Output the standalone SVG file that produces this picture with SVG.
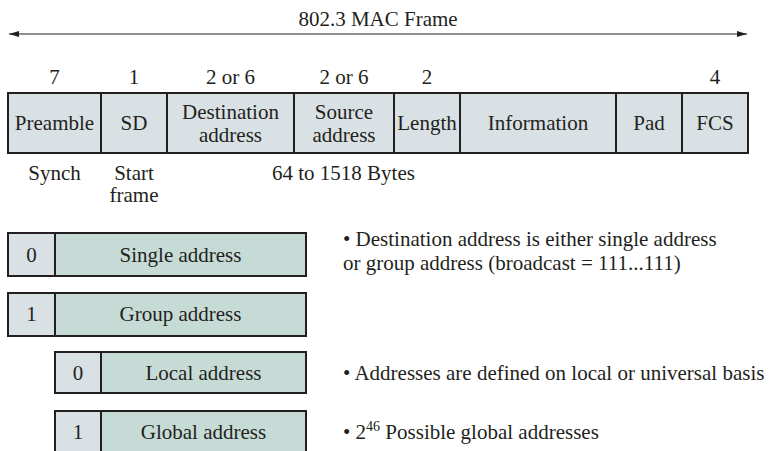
<svg xmlns="http://www.w3.org/2000/svg" width="771" height="451" viewBox="0 0 771 451" font-family="Liberation Serif, Times New Roman, serif">
<defs>
<style>
text{font-family:"Liberation Serif","Times New Roman",Times,serif;font-size:21px;fill:#231f20}
.c{text-anchor:middle}
.cell{fill:#d9e1e4;stroke:#231f20;stroke-width:2}
.addr{fill:#c7dbd6;stroke:#231f20;stroke-width:2}
.conn{stroke:#231f20;stroke-width:1.2;fill:none}
</style>
<marker id="ah" viewBox="0 0 10 6" refX="10" refY="3" markerWidth="10" markerHeight="6" markerUnits="userSpaceOnUse" orient="auto-start-reverse">
<path d="M0,0 L10,3 L0,6 Z" fill="#231f20"/>
</marker>
</defs>
<rect width="771" height="451" fill="#fff"/>

<g id="connectors">
<line class="conn" x1="9" y1="34" x2="747" y2="34" marker-start="url(#ah)" marker-end="url(#ah)"/>
</g>
<g id="title"><text class="c" x="378" y="26">802.3 MAC Frame</text></g>

<g id="sizes">
<text class="c" x="54.5" y="84">7</text>
<text class="c" x="134" y="84">1</text>
<text class="c" x="230.5" y="84">2 or 6</text>
<text class="c" x="344" y="84">2 or 6</text>
<text class="c" x="427" y="84">2</text>
<text class="c" x="715" y="84">4</text>
</g>

<g id="preamble"><rect class="cell" x="8" y="93" width="93" height="60"/><text class="c" x="54.5" y="130">Preamble</text></g>
<g id="sd"><rect class="cell" x="101" y="93" width="66" height="60"/><text class="c" x="134" y="130">SD</text></g>
<g id="dest"><rect class="cell" x="167" y="93" width="127" height="60"/><text class="c" x="230.5" y="119">Destination</text><text class="c" x="230.5" y="142">address</text></g>
<g id="source"><rect class="cell" x="294" y="93" width="100" height="60"/><text class="c" x="344" y="119">Source</text><text class="c" x="344" y="142">address</text></g>
<g id="length"><rect class="cell" x="394" y="93" width="66" height="60"/><text class="c" x="427" y="130">Length</text></g>
<g id="info"><rect class="cell" x="460" y="93" width="156" height="60"/><text class="c" x="538" y="130">Information</text></g>
<g id="pad"><rect class="cell" x="616" y="93" width="66" height="60"/><text class="c" x="649" y="130">Pad</text></g>
<g id="fcs"><rect class="cell" x="682" y="93" width="66" height="60"/><text class="c" x="715" y="130">FCS</text></g>

<g id="below">
<text class="c" x="54.5" y="180">Synch</text>
<text class="c" x="134" y="180">Start</text>
<text class="c" x="134" y="202">frame</text>
<text x="272" y="180">64 to 1518 Bytes</text>
</g>

<g id="single"><rect class="cell" x="8" y="233" width="47" height="43"/><rect class="addr" x="55" y="233" width="251" height="43"/><text class="c" x="31.5" y="262">0</text><text class="c" x="180.5" y="262">Single address</text></g>
<g id="group"><rect class="cell" x="8" y="293" width="47" height="43"/><rect class="addr" x="55" y="293" width="251" height="43"/><text class="c" x="31.5" y="321">1</text><text class="c" x="180.5" y="321">Group address</text></g>
<g id="local"><rect class="cell" x="55" y="352" width="46" height="41"/><rect class="addr" x="101" y="352" width="205" height="41"/><text class="c" x="78" y="380">0</text><text class="c" x="203.5" y="380">Local address</text></g>
<g id="global"><rect class="cell" x="55" y="411" width="46" height="50"/><rect class="addr" x="101" y="411" width="205" height="50"/><text class="c" x="78" y="439">1</text><text class="c" x="203.5" y="439">Global address</text></g>

<g id="notes">
<text x="343" y="246">• Destination address is either single address</text>
<text x="343" y="270">or group address (broadcast = 111...111)</text>
<text x="343" y="380">• Addresses are defined on local or universal basis</text>
<text x="343" y="439">• 2<tspan dy="-8" font-size="14">46</tspan><tspan dy="8"> Possible global addresses</tspan></text>
</g>
</svg>
